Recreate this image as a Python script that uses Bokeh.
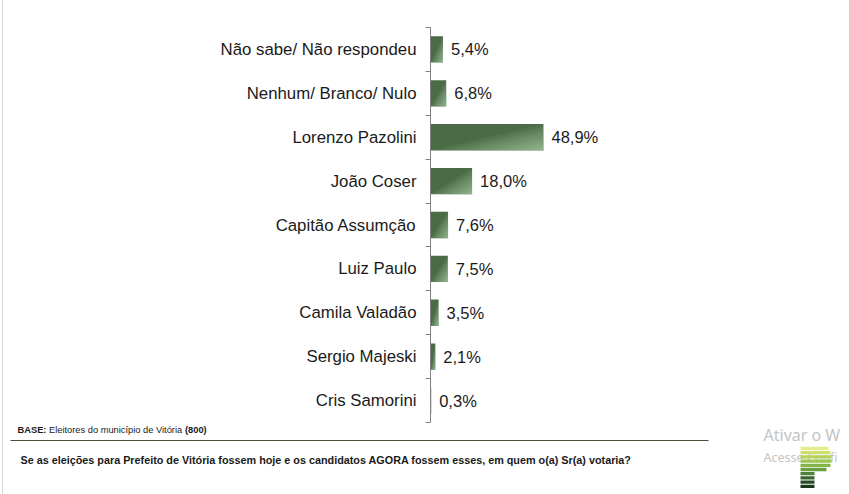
from bokeh.plotting import figure
from bokeh.layouts import column
from bokeh.models import Range1d, FixedTicker, ColumnDataSource, LinearAxis
from bokeh.core.properties import value
from bokeh.embed import file_html
from bokeh.resources import INLINE

# ---- data ----
categories = ["Não sabe/ Não respondeu", "Nenhum/ Branco/ Nulo", "Lorenzo Pazolini",
              "João Coser", "Capitão Assumção", "Luiz Paulo", "Camila Valadão",
              "Sergio Majeski", "Cris Samorini"]
percent = [5.4, 6.8, 48.9, 18.0, 7.6, 7.5, 3.5, 2.1, 0.3]
labels = [f"{v:.1f}%".replace(".", ",") for v in percent]

base_bold = "BASE:"
base_text = "Eleitores do município de Vitória"
base_n = "(800)"
question = "Se as eleições para Prefeito de Vitória fossem hoje e os candidatos AGORA fossem esses, em quem o(a) Sr(a) votaria?"
wm1 = "Ativar o W"
wm2 = "Acesse Confi"

FONT = "Liberation Sans"
n = len(categories)
ypos = [n - 1 - i for i in range(n)]  # first category at top
bounds = [k - 0.5 for k in range(n + 1)]
BAR_H = 0.6

src = ColumnDataSource(dict(y=ypos, v=percent, lab=labels, cat=categories))

W = 849
p = figure(width=W, height=424, output_backend="svg", toolbar_location=None,
           x_range=Range1d(0, 181.4), y_range=Range1d(-0.5, n - 0.5),
           min_border_left=430, min_border_right=0, min_border_top=27, min_border_bottom=2)
p.frame_align = False
p.outline_line_color = None
p.xgrid.visible = False
p.ygrid.visible = False
p.xaxis.visible = False
p.background_fill_color = None
p.border_fill_color = None

# axis 1 (next to the frame): line + tick marks between categories
ax1 = p.yaxis[0]
ax1.ticker = FixedTicker(ticks=bounds)
ax1.major_label_overrides = {b: "" for b in bounds}
ax1.major_label_text_font_size = "0px"
ax1.major_label_standoff = 0
ax1.major_tick_out = 5
ax1.major_tick_in = 0
ax1.minor_tick_out = 0
ax1.minor_tick_in = 0
ax1.major_tick_line_color = "#808080"
ax1.axis_line_color = "#808080"

# axis 2: category names at bar centres, no line / ticks
ax2 = LinearAxis(ticker=FixedTicker(ticks=ypos),
                 major_label_overrides={y: c for y, c in zip(ypos, categories)},
                 major_tick_out=0, major_tick_in=0, minor_tick_out=0, minor_tick_in=0,
                 axis_line_color=None, major_tick_line_color=None, minor_tick_line_color=None,
                 major_label_text_font=FONT, major_label_text_font_size="16.8px",
                 major_label_text_color="#1a1a1a", major_label_standoff=9)
p.add_layout(ax2, "left")

p.hbar(y="y", right="v", left=0, height=BAR_H, source=src,
       fill_color="#4b6a46", line_color=None)

# diagonal light sheen toward each bar's lower-right corner (simulated gradient)
layers = [1.0, 0.9, 0.8, 0.7, 0.6, 0.5, 0.42, 0.34, 0.26, 0.18, 0.1]
for s in layers:
    xs, ys = [], []
    for v, y in zip(percent, ypos):
        bot = y - BAR_H / 2
        xs.append([v - s * v, v, v])
        ys.append([bot, bot, bot + s * BAR_H])
    p.patches(xs=xs, ys=ys, fill_color="#c8ecc8", fill_alpha=0.07, line_color=None)

p.text(x="v", y="y", text="lab", source=src, x_offset=8,
       text_font=value(FONT), text_font_size="16.5px", text_color="#1a1a1a",
       text_baseline="middle", text_align="left")

# ---- footer ----
H2 = 70
f = figure(width=W, height=H2, output_backend="svg", toolbar_location=None,
           x_range=Range1d(0, W), y_range=Range1d(494, 494 - H2),
           min_border=0)
f.frame_align = False
f.outline_line_color = None
f.xgrid.visible = False
f.ygrid.visible = False
f.xaxis.visible = False
f.yaxis.visible = False
f.background_fill_color = None
f.border_fill_color = None

FS = 9.3
f.text(x=[17], y=[429], text=[base_bold], text_font=value(FONT), text_font_size=f"{FS}px",
       text_font_style="bold", text_baseline="middle", text_color="#1a1a1a")
f.text(x=[17 + 3.389 * FS], y=[429], text=[base_text], text_font=value(FONT), text_font_size=f"{FS}px",
       text_baseline="middle", text_color="#1a1a1a")
f.text(x=[17 + 18.006 * FS], y=[429], text=[base_n], text_font=value(FONT), text_font_size=f"{FS}px",
       text_font_style="bold", text_baseline="middle", text_color="#1a1a1a")
f.segment(x0=[10], x1=[708], y0=[440], y1=[440], line_color="#4f5032", line_width=1)
f.text(x=[20], y=[459], text=[question], text_font=value(FONT), text_font_size="10.8px",
       text_font_style="bold", text_baseline="middle", text_color="#1a1a1a")

# watermark (as visible in the reference)
f.text(x=[763], y=[434], text=[wm1], text_font=value("Noto Sans"), text_font_size="16px",
       text_baseline="middle", text_color="#c4c4c4")
f.text(x=[763], y=[457], text=[wm2], text_font=value("Noto Sans"), text_font_size="12.5px",
       text_baseline="middle", text_color="#c4c4c4")
# logo stripes
stripe_y = [448, 452.2, 456.4, 460.6, 464.8, 469, 473.2, 477.4, 481.6, 485.8]
stripe_r = [828, 830, 831, 831, 830, 826, 814, 814, 814, 814]
stripe_c = ["#e4ec8e", "#d0e070", "#b5d35c", "#9cc64e", "#84b546", "#6c9f3f",
            "#4f8138", "#386430", "#264a26", "#1a361c"]
f.hbar(y=stripe_y, left=800, right=stripe_r, height=3.3, fill_color=stripe_c, line_color=None)

layout = column(p, f, spacing=0,
                styles={"background": "linear-gradient(to right, #ffffff 2px, #d6d6d6 2px, #d6d6d6 3px, #ffffff 3px)"})
open("out.html", "w").write(file_html(layout, INLINE))
